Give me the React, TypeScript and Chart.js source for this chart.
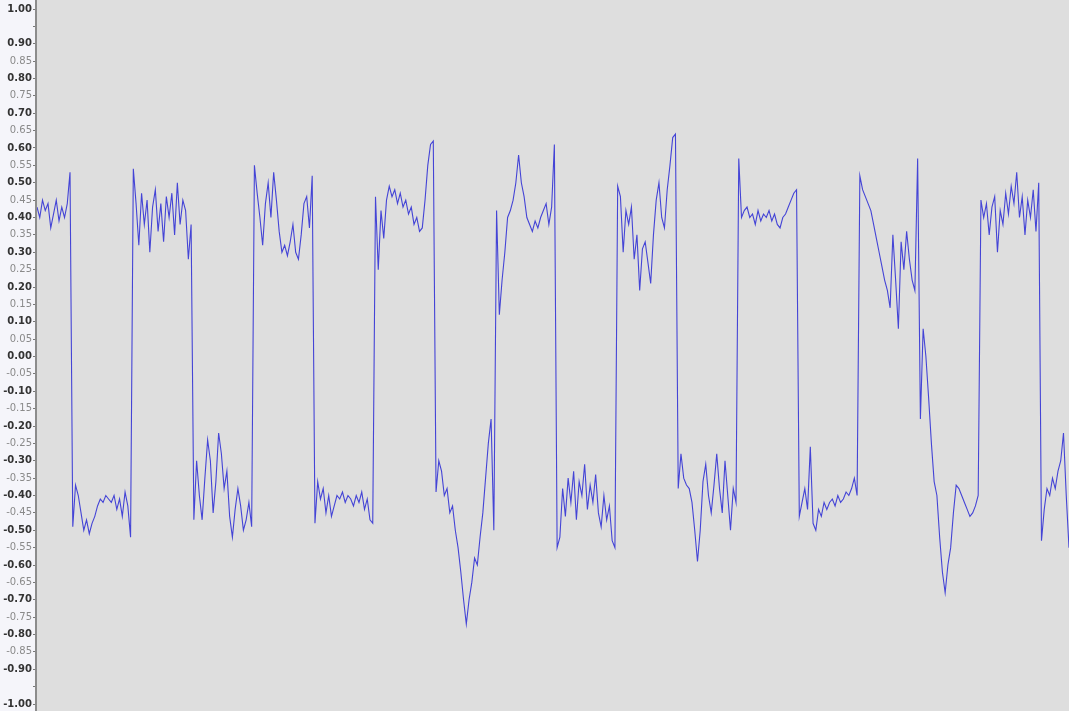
import React, { useEffect, useRef } from 'react';
import { Chart, registerables } from 'chart.js';

Chart.register(...registerables);

// waveform, one half-cycle per array (each starts with its switching spike)
const seg00 = [0.43, 0.40, 0.45, 0.42, 0.44, 0.37, 0.41, 0.45, 0.39, 0.43, 0.40, 0.44];
const seg01 = [0.53, -0.49, -0.37, -0.40, -0.45, -0.50, -0.47, -0.51, -0.48, -0.46, -0.43, -0.41, -0.42, -0.40, -0.41, -0.42, -0.40, -0.44, -0.41, -0.46, -0.39, -0.43];
const seg02 = [-0.52, 0.54, 0.44, 0.32, 0.47, 0.38, 0.45, 0.30, 0.43, 0.48, 0.36, 0.44, 0.33, 0.46, 0.40, 0.47, 0.35, 0.50, 0.38, 0.45, 0.42, 0.28];
const seg03 = [0.38, -0.47, -0.30, -0.40, -0.47, -0.35, -0.24, -0.30, -0.45, -0.36, -0.22, -0.28, -0.38, -0.33, -0.46, -0.52, -0.44, -0.38, -0.43, -0.50, -0.47, -0.42];
const seg04 = [-0.49, 0.55, 0.47, 0.40, 0.32, 0.44, 0.50, 0.40, 0.53, 0.45, 0.36, 0.30, 0.32, 0.29, 0.33, 0.38, 0.30, 0.28, 0.35, 0.44, 0.46, 0.37];
const seg05 = [0.52, -0.48, -0.36, -0.41, -0.38, -0.45, -0.40, -0.46, -0.43, -0.40, -0.41, -0.39, -0.42, -0.40, -0.41, -0.43, -0.40, -0.42, -0.39, -0.44, -0.41, -0.47];
const seg06 = [-0.48, 0.46, 0.25, 0.42, 0.34, 0.45, 0.49, 0.46, 0.48, 0.44, 0.47, 0.43, 0.45, 0.41, 0.43, 0.38, 0.40, 0.36, 0.37, 0.45, 0.55, 0.61];
const seg07 = [0.62, -0.39, -0.30, -0.33, -0.40, -0.38, -0.45, -0.43, -0.50, -0.55, -0.62, -0.70, -0.77, -0.70, -0.65, -0.58, -0.60, -0.52, -0.45, -0.35, -0.25, -0.18];
const seg08 = [-0.50, 0.42, 0.12, 0.22, 0.30, 0.40, 0.42, 0.45, 0.50, 0.58, 0.50, 0.46, 0.40, 0.38, 0.36, 0.39, 0.37, 0.40, 0.42, 0.44, 0.38, 0.43];
const seg09 = [0.61, -0.55, -0.52, -0.38, -0.46, -0.35, -0.42, -0.33, -0.47, -0.36, -0.40, -0.31, -0.44, -0.37, -0.42, -0.34, -0.45, -0.49, -0.40, -0.47, -0.43, -0.53];
const seg10 = [-0.55, 0.49, 0.46, 0.30, 0.42, 0.38, 0.43, 0.28, 0.35, 0.19, 0.31, 0.33, 0.27, 0.21, 0.35, 0.45, 0.50, 0.40, 0.37, 0.48, 0.55, 0.63];
const seg11 = [0.64, -0.38, -0.28, -0.35, -0.37, -0.38, -0.42, -0.50, -0.59, -0.50, -0.36, -0.31, -0.40, -0.45, -0.37, -0.28, -0.38, -0.45, -0.30, -0.40, -0.50, -0.38];
const seg12 = [-0.42, 0.57, 0.40, 0.42, 0.43, 0.40, 0.41, 0.38, 0.42, 0.39, 0.41, 0.40, 0.42, 0.39, 0.41, 0.38, 0.37, 0.40, 0.41, 0.43, 0.45, 0.47];
const seg13 = [0.48, -0.46, -0.42, -0.38, -0.44, -0.26, -0.48, -0.50, -0.44, -0.46, -0.42, -0.44, -0.42, -0.41, -0.43, -0.40, -0.42, -0.41, -0.39, -0.40, -0.38, -0.35];
const seg14 = [-0.40, 0.52, 0.48, 0.46, 0.44, 0.42, 0.38, 0.34, 0.30, 0.26, 0.22, 0.19, 0.14, 0.35, 0.22, 0.08, 0.33, 0.25, 0.36, 0.28, 0.22, 0.19];
const seg15 = [0.57, -0.18, 0.08, 0.00, -0.12, -0.25, -0.36, -0.40, -0.52, -0.62, -0.68, -0.60, -0.55, -0.45, -0.37, -0.38, -0.40, -0.42, -0.44, -0.46, -0.45, -0.43];
const seg16 = [-0.40, 0.45, 0.40, 0.44, 0.35, 0.43, 0.46, 0.30, 0.42, 0.38, 0.47, 0.41, 0.49, 0.44, 0.53, 0.40, 0.46, 0.35, 0.45, 0.40, 0.48, 0.36];
const seg17 = [0.50, -0.53, -0.44, -0.38, -0.40, -0.35, -0.38, -0.33, -0.30, -0.22, -0.40, -0.55];

const segments = [seg00, seg01, seg02, seg03, seg04, seg05, seg06, seg07, seg08, seg09,
  seg10, seg11, seg12, seg13, seg14, seg15, seg16, seg17];

const amplitude: number[] = segments.flat();
const samples: number[] = amplitude.map((_, i) => i);

const yMin = -1;
const yMax = 1;
const yStep = 0.05;
const hiddenTicks = [0.95, -0.95];

const isTenth = (v: number) => Math.abs(Math.round(v * 10) - v * 10) < 1e-6;
const tickIsTenth = (c: any) => (c && c.tick ? isTenth(c.tick.value) : true);

const backdrop = {
  id: 'backdrop',
  beforeDraw(chart: Chart) {
    const { ctx, chartArea, width, height } = chart;
    ctx.save();
    ctx.fillStyle = '#f5f5fa';
    ctx.fillRect(0, 0, chartArea.left, height);
    ctx.fillStyle = '#dedede';
    ctx.fillRect(chartArea.left, 0, width - chartArea.left, height);
    ctx.restore();
  },
  afterDraw(chart: Chart) {
    const { ctx, chartArea, height } = chart;
    ctx.save();
    ctx.strokeStyle = '#8c8c8c';
    ctx.lineWidth = 2;
    ctx.beginPath();
    ctx.moveTo(chartArea.left - 1, 0);
    ctx.lineTo(chartArea.left - 1, height);
    ctx.stroke();
    ctx.restore();
  },
};

const App: React.FC = () => {
  const chartRef = useRef<HTMLCanvasElement>(null);
  const chartInstance = useRef<Chart | null>(null);

  useEffect(() => {
    document.body.style.margin = '0';
    if (!chartRef.current) return;
    if (chartInstance.current) chartInstance.current.destroy();

    chartInstance.current = new Chart(chartRef.current, {
      type: 'line',
      data: {
        labels: samples,
        datasets: [
          {
            data: amplitude,
            borderColor: '#4444d6',
            borderWidth: 1.1,
            pointRadius: 0,
            tension: 0,
            fill: false,
          },
        ],
      },
      options: {
        animation: false,
        responsive: true,
        maintainAspectRatio: false,
        layout: { padding: { top: 9, bottom: 6, left: 0, right: 0 } },
        plugins: {
          legend: { display: false },
          tooltip: { enabled: false },
        },
        scales: {
          x: { display: false },
          y: {
            min: yMin,
            max: yMax,
            afterFit: (scale: any) => {
              scale.width = 37;
            },
            border: { display: false },
            grid: {
              drawOnChartArea: false,
              tickLength: 4,
              color: '#777',
            },
            ticks: {
              stepSize: yStep,
              autoSkip: false,
              padding: 1,
              color: (c: any) => (tickIsTenth(c) ? '#333' : '#8a8a8a'),
              font: (c: any) => ({
                family: 'DejaVu Sans',
                size: 10,
                weight: tickIsTenth(c) ? 'bold' : 'normal',
              }),
              callback: (v: any) => {
                const n = Number(v);
                if (hiddenTicks.some(h => Math.abs(h - n) < 1e-6)) return '';
                if (Math.abs(n) < 1e-9) return '0.00';
                return n.toFixed(2);
              },
            },
          },
        },
      },
      plugins: [backdrop],
    });

    return () => {
      if (chartInstance.current) {
        chartInstance.current.destroy();
        chartInstance.current = null;
      }
    };
  }, []);

  return (
    <div style={{ width: 1069, height: 711, position: 'relative' }}>
      <canvas ref={chartRef}></canvas>
    </div>
  );
};

export default App;
